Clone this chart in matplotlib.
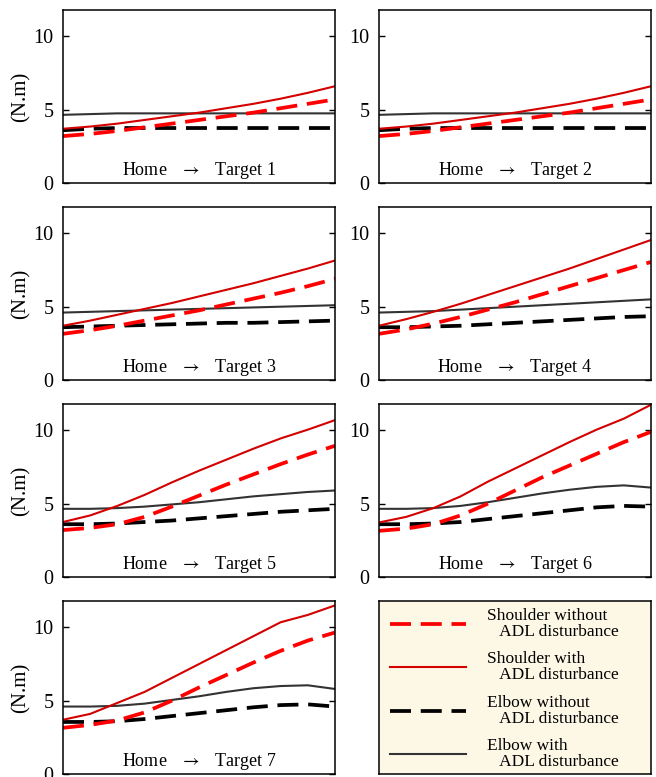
import numpy as np
import matplotlib
matplotlib.use("Agg")
import matplotlib.pyplot as plt
from matplotlib.lines import Line2D

plt.rcParams['font.family'] = ['Liberation Serif', 'DejaVu Serif']
plt.rcParams['mathtext.fontset'] = 'stix'

# Avance normalizado del movimiento Home -> Target
progress = [0.0, 0.1, 0.2, 0.3, 0.4, 0.5, 0.6, 0.7, 0.8, 0.9, 1.0]

targets = ["Target 1", "Target 2", "Target 3", "Target 4",
           "Target 5", "Target 6", "Target 7"]

# Hombro con perturbacion ADL (rojo continuo)
shoulder_with = [
    [3.7, 3.85, 4.05, 4.3, 4.55, 4.8, 5.1, 5.4, 5.75, 6.15, 6.6],
    [3.7, 3.85, 4.05, 4.3, 4.55, 4.8, 5.1, 5.4, 5.75, 6.15, 6.6],
    [3.7, 4.05, 4.45, 4.85, 5.25, 5.7, 6.15, 6.6, 7.1, 7.6, 8.15],
    [3.7, 4.15, 4.65, 5.2, 5.8, 6.4, 7.0, 7.6, 8.25, 8.9, 9.55],
    [3.75, 4.2, 4.85, 5.6, 6.45, 7.25, 8.0, 8.75, 9.45, 10.05, 10.7],
    [3.72, 4.1, 4.7, 5.5, 6.5, 7.4, 8.3, 9.2, 10.05, 10.8, 11.75],
    [3.7, 4.1, 4.85, 5.6, 6.55, 7.5, 8.45, 9.4, 10.35, 10.85, 11.5],
]

# Hombro sin perturbacion ADL (rojo discontinuo)
shoulder_without = [
    [3.2, 3.35, 3.55, 3.8, 4.05, 4.3, 4.55, 4.8, 5.1, 5.4, 5.7],
    [3.2, 3.35, 3.55, 3.8, 4.05, 4.3, 4.55, 4.8, 5.1, 5.4, 5.7],
    [3.15, 3.4, 3.7, 4.05, 4.4, 4.75, 5.15, 5.55, 5.95, 6.4, 6.9],
    [3.15, 3.45, 3.85, 4.3, 4.8, 5.3, 5.85, 6.4, 6.95, 7.5, 8.05],
    [3.2, 3.35, 3.6, 4.1, 4.8, 5.55, 6.3, 7.0, 7.7, 8.35, 8.95],
    [3.15, 3.3, 3.6, 4.2, 5.0, 5.9, 6.8, 7.6, 8.4, 9.2, 9.9],
    [3.15, 3.35, 3.65, 4.2, 5.0, 5.9, 6.75, 7.6, 8.4, 9.1, 9.65],
]

# Codo con perturbacion ADL (gris continuo)
elbow_with = [
    [4.65, 4.7, 4.75, 4.75, 4.75, 4.75, 4.75, 4.75, 4.75, 4.75, 4.75],
    [4.65, 4.7, 4.75, 4.75, 4.75, 4.75, 4.75, 4.75, 4.75, 4.75, 4.75],
    [4.6, 4.65, 4.7, 4.75, 4.8, 4.85, 4.9, 4.95, 5.0, 5.05, 5.1],
    [4.6, 4.65, 4.7, 4.8, 4.9, 5.0, 5.1, 5.2, 5.3, 5.4, 5.5],
    [4.65, 4.65, 4.7, 4.8, 4.95, 5.1, 5.3, 5.5, 5.65, 5.8, 5.9],
    [4.65, 4.65, 4.7, 4.85, 5.1, 5.4, 5.7, 5.95, 6.15, 6.25, 6.1],
    [4.6, 4.6, 4.65, 4.8, 5.05, 5.3, 5.6, 5.85, 6.0, 6.05, 5.8],
]

# Codo sin perturbacion ADL (negro discontinuo)
elbow_without = [
    [3.6, 3.7, 3.75, 3.75, 3.75, 3.75, 3.75, 3.75, 3.75, 3.75, 3.75],
    [3.6, 3.7, 3.75, 3.75, 3.75, 3.75, 3.75, 3.75, 3.75, 3.75, 3.75],
    [3.6, 3.65, 3.7, 3.75, 3.8, 3.85, 3.9, 3.9, 3.95, 4.0, 4.05],
    [3.6, 3.6, 3.65, 3.7, 3.8, 3.9, 4.0, 4.1, 4.2, 4.3, 4.35],
    [3.6, 3.6, 3.65, 3.75, 3.85, 4.0, 4.15, 4.3, 4.45, 4.55, 4.65],
    [3.6, 3.6, 3.65, 3.75, 3.95, 4.15, 4.35, 4.55, 4.75, 4.85, 4.8],
    [3.55, 3.55, 3.6, 3.75, 3.95, 4.15, 4.35, 4.55, 4.7, 4.75, 4.6],
]

legend_labels = ["Shoulder without\n   ADL disturbance",
                 "Shoulder with\n   ADL disturbance",
                 "Elbow without\n   ADL disturbance",
                 "Elbow with\n   ADL disturbance"]

# Estilos de cada serie
dash = (5.6, 2.6)
sty_sw = dict(color="#d40000", lw=1.5)
sty_swo = dict(color="#ff0000", lw=2.7, dashes=dash)
sty_ew = dict(color="#333333", lw=1.5)
sty_ewo = dict(color="#000000", lw=2.7, dashes=dash)

W, H = 656, 777
fig = plt.figure(figsize=(W / 100, H / 100), dpi=100)

col_x = [63, 379]
row_top = [10, 207, 404, 601]
ax_w, ax_h = 272, 173


def make_axes(r, c):
    x0 = col_x[c] / W
    y0 = 1 - (row_top[r] + ax_h) / H
    return fig.add_axes([x0, y0, ax_w / W, ax_h / H])


for k, name in enumerate(targets):
    r, c = divmod(k, 2)
    ax = make_axes(r, c)
    ax.plot(progress, elbow_with[k], **sty_ew)
    ax.plot(progress, elbow_without[k], **sty_ewo)
    ax.plot(progress, shoulder_without[k], **sty_swo)
    ax.plot(progress, shoulder_with[k], **sty_sw)
    ax.set_xlim(0, 1)
    ax.set_ylim(0, 11.8)
    ax.set_yticks([0, 5, 10])
    ax.set_xticks([])
    ax.tick_params(axis="y", direction="in", length=4, width=1,
                   labelsize=14.5, right=True, pad=7)
    for s in ax.spines.values():
        s.set_linewidth(1.1)
    ax.text(0.5, 0.047, "Home   $\\rightarrow$   " + name,
            transform=ax.transAxes, ha="center", va="baseline", fontsize=13)
    if c == 0:
        ax.set_ylabel("(N.m)", fontsize=15, labelpad=2)

# Panel de leyenda
lax = make_axes(3, 1)
lax.set_facecolor("#fdf8e6")
lax.set_xticks([])
lax.set_yticks([])
for s in lax.spines.values():
    s.set_linewidth(1.1)
handles = [Line2D([], [], **sty_swo), Line2D([], [], **sty_sw),
           Line2D([], [], **sty_ewo), Line2D([], [], **sty_ew)]
leg = lax.legend(handles, legend_labels, loc="upper left",
                 bbox_to_anchor=(11 / ax_w, 1 - 7 / ax_h), frameon=False,
                 fontsize=12.5, handlelength=4.4, handletextpad=1.2,
                 labelspacing=0.66, borderpad=0, borderaxespad=0)
for t in leg.get_texts():
    t.set_linespacing(1.0)

fig.savefig("out.png", dpi=100)
